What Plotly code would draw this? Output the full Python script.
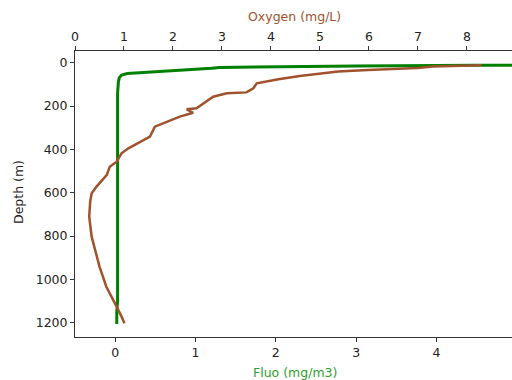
import plotly.graph_objects as go

# Oxygen profile (top axis, mg/L)
oxy_depth = [12, 14, 18, 22, 24, 34, 41, 61, 76, 95, 118, 137, 141, 157, 187, 210, 215,
             231, 249, 272, 295, 341, 365, 395, 418, 457, 480, 518, 572, 603, 641, 711,
             803, 864, 941, 1034, 1080, 1126, 1172, 1203]
oxygen = [8.3, 7.9, 7.3, 7.1, 6.98, 5.98, 5.37, 4.59, 4.15, 3.71, 3.64, 3.50, 3.10, 2.82,
          2.62, 2.48, 2.28, 2.41, 2.14, 1.87, 1.63, 1.53, 1.33, 1.09, 0.95, 0.85, 0.71, 0.65,
          0.44, 0.34, 0.31, 0.29, 0.34, 0.41, 0.50, 0.64, 0.75, 0.85, 0.95, 1.01]

# Fluorescence profile (bottom axis, mg/m3)
fluo_depth = [4, 9, 12, 15, 18, 22, 26, 30, 34, 38, 42, 46, 50, 57, 70, 90, 140,
              200, 300, 400, 500, 600, 700, 800, 900, 1000, 1100, 1150, 1206]
fluo = [9.8, 5.0, 4.5, 3.0, 1.8, 1.3, 1.2, 1.0, 0.85, 0.64, 0.4, 0.23, 0.15, 0.08,
        0.05, 0.04, 0.03, 0.03, 0.03, 0.03, 0.03, 0.03, 0.03, 0.03, 0.03, 0.03, 0.03, 0.02, 0.02]

fluo_ticks = [0, 1, 2, 3, 4]
oxy_ticks = [0, 1, 2, 3, 4, 5, 6, 7, 8]
depth_ticks = [0, 200, 400, 600, 800, 1000, 1200]

FONT = "DejaVu Sans"
fig = go.Figure()
fig.add_trace(go.Scatter(x=oxygen, y=oxy_depth, xaxis="x2", yaxis="y", mode="lines",
                         line=dict(color="sienna", width=2.5), showlegend=False))
fig.add_trace(go.Scatter(x=fluo, y=fluo_depth, xaxis="x", yaxis="y", mode="lines",
                         line=dict(color="green", width=3), showlegend=False))

axis_common = dict(showgrid=False, zeroline=False, showline=True, linecolor="#333",
                   linewidth=1, ticks="outside", ticklen=4, tickcolor="#333",
                   automargin=False,
                   tickfont=dict(family=FONT, size=12.5, color="#222"))

fig.update_layout(
    width=512, height=380,
    margin=dict(l=75, r=0, t=51, b=43),
    paper_bgcolor="white", plot_bgcolor="white",
    xaxis=dict(range=[-0.5, 4.94], tickvals=fluo_ticks, **axis_common),
    xaxis2=dict(range=[0, 8.92], tickvals=oxy_ticks, overlaying="x", side="top",
                **axis_common),
    yaxis=dict(range=[1266, -54], tickvals=depth_ticks, **axis_common),
    annotations=[
        dict(text="Oxygen (mg/L)", x=294, y=380 - 17, xref="paper", yref="paper",
             showarrow=False, font=dict(family=FONT, size=12.5, color="sienna")),
        dict(text="Fluo (mg/m3)", x=295, y=380 - 372, xref="paper", yref="paper",
             showarrow=False, font=dict(family=FONT, size=12.5, color="#2ca02c")),
        dict(text="Depth (m)", x=18, y=380 - 192, xref="paper", yref="paper",
             showarrow=False, textangle=-90, font=dict(family=FONT, size=12.5, color="#222")),
    ],
)

# convert pixel positions of annotations into paper fractions
plot_l, plot_w = 75, 512 - 75
plot_b, plot_h = 43, 380 - 51 - 43
for ann in fig.layout.annotations:
    ann.x = (ann.x - plot_l) / plot_w
    ann.y = (ann.y - plot_b) / plot_h
    ann.xanchor = "center"
    ann.yanchor = "middle"

fig.write_html("out.html", config={"displayModeBar": False})

# remove the default page margin so the figure sits at the window's top-left corner
with open("out.html", encoding="utf-8") as f:
    html = f.read()
html = html.replace("<head>", "<head><style>html,body{margin:0;padding:0;overflow:hidden;}</style>", 1)
with open("out.html", "w", encoding="utf-8") as f:
    f.write(html)
